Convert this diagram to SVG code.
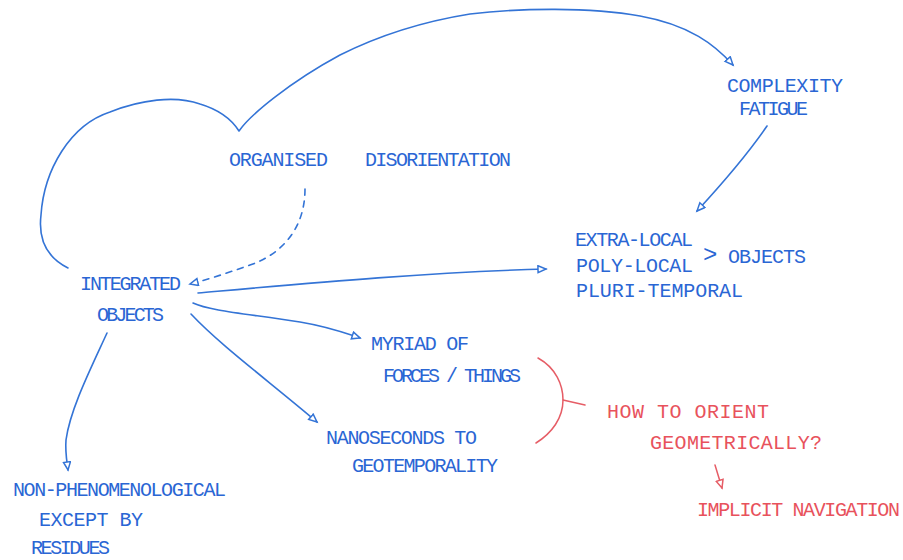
<svg xmlns="http://www.w3.org/2000/svg" width="903" height="560" viewBox="0 0 903 560">
  <style>
    .t { font-family: "Liberation Mono", "DejaVu Sans Mono", monospace; font-size: 20px; }
    .blue { fill: #2a66d4; }
    .red { fill: #e8525c; }
    .ln { fill: none; stroke: #3474d6; stroke-width: 1.6; stroke-linecap: round; stroke-linejoin: round; }
    .lnr { fill: none; stroke: #e65d66; stroke-width: 1.5; stroke-linecap: round; }
    .dash { stroke-dasharray: 6 6; }
  </style>
  <defs>
    <marker id="ah" markerUnits="userSpaceOnUse" markerWidth="12" markerHeight="12" refX="9" refY="4.5" orient="auto">
      <path d="M1,1 L9,4.5 L1,8 Z" fill="#ffffff" stroke="#3474d6" stroke-width="1.5"/>
    </marker>
    <marker id="ahr" markerUnits="userSpaceOnUse" markerWidth="12" markerHeight="12" refX="9" refY="4.5" orient="auto">
      <path d="M1,1 L9,4.5 L1,8 Z" fill="#ffffff" stroke="#e65d66" stroke-width="1.5"/>
    </marker>
  </defs>
  <rect width="903" height="560" fill="#ffffff"/>

  <g id="connectors">
    <!-- loop from Integrated Objects up through the cusp and over to Complexity Fatigue -->
    <path class="ln" marker-end="url(#ah)" d="M68,268 C48,258 38,240 41,215 C44,170 70,125 110,112 C140,100 175,95 200,104 C220,110 232,120 239,131 C250,115 290,82 340,55 C380,35 420,22 470,14 C520,8 590,7 640,16 C690,25 715,45 733,65"/>
    <path class="ln" marker-end="url(#ah)" d="M767,126 C745,158 720,186 697,211"/>
    <path class="ln dash" marker-end="url(#ah)" d="M305,189 C305,230 280,255 250,265 C230,272 210,279 190,284"/>
    <path class="ln" marker-end="url(#ah)" d="M198,293 C300,284 430,272 546,269"/>
    <path class="ln" marker-end="url(#ah)" d="M193,303 C210,311 250,314 300,322 C330,327 345,333 360,338"/>
    <path class="ln" marker-end="url(#ah)" d="M191,314 C220,345 270,382 317,422"/>
    <path class="ln" marker-end="url(#ah)" d="M107,333 C90,370 70,410 66,440 C65,452 67,462 68,470"/>
    <!-- red bracket grouping the two right-hand outcomes -->
    <path class="lnr" d="M538,358 C556,368 563,385 563,400 C563,418 552,433 536,443"/>
    <path class="lnr" d="M563,400 L585,405"/>
    <path class="lnr" marker-end="url(#ahr)" d="M715,465 L722,488"/>
  </g>

  <g id="organised-disorientation" class="t blue">
    <text x="229" y="166" textLength="99" lengthAdjust="spacing">ORGANISED</text>
    <text x="365" y="166" textLength="146" lengthAdjust="spacing">DISORIENTATION</text>
  </g>
  <g id="complexity-fatigue" class="t blue">
    <text x="727" y="92" textLength="116" lengthAdjust="spacing">COMPLEXITY</text>
    <text x="739" y="115" textLength="69" lengthAdjust="spacing">FATIGUE</text>
  </g>
  <g id="local-objects" class="t blue">
    <text x="575" y="246" textLength="118" lengthAdjust="spacing">EXTRA-LOCAL</text>
    <text x="576" y="272" textLength="117" lengthAdjust="spacing">POLY-LOCAL</text>
    <text x="576" y="297" textLength="167" lengthAdjust="spacing">PLURI-TEMPORAL</text>
    <text x="703" y="262" font-size="24">&gt;</text>
    <text x="728" y="263" textLength="78" lengthAdjust="spacing">OBJECTS</text>
  </g>
  <g id="integrated-objects" class="t blue">
    <text x="80" y="290" textLength="101" lengthAdjust="spacing">INTEGRATED</text>
    <text x="97" y="321" textLength="67" lengthAdjust="spacing">OBJECTS</text>
  </g>
  <g id="myriad" class="t blue">
    <text x="371" y="350" textLength="98" lengthAdjust="spacing">MYRIAD OF</text>
    <text x="383" y="382" textLength="138" lengthAdjust="spacing">FORCES / THINGS</text>
  </g>
  <g id="nanoseconds" class="t blue">
    <text x="326" y="444" textLength="151" lengthAdjust="spacing">NANOSECONDS TO</text>
    <text x="352" y="472" textLength="146" lengthAdjust="spacing">GEOTEMPORALITY</text>
  </g>
  <g id="non-phenomenological" class="t blue">
    <text x="13" y="496" textLength="213" lengthAdjust="spacing">NON-PHENOMENOLOGICAL</text>
    <text x="39" y="526" textLength="104" lengthAdjust="spacing">EXCEPT BY</text>
    <text x="31" y="554" textLength="79" lengthAdjust="spacing">RESIDUES</text>
  </g>
  <g id="orient" class="t red">
    <text x="607" y="418" textLength="162" lengthAdjust="spacing">HOW TO ORIENT</text>
    <text x="650" y="449" textLength="172" lengthAdjust="spacing">GEOMETRICALLY?</text>
  </g>
  <g id="implicit-navigation" class="t red">
    <text x="697" y="516" textLength="203" lengthAdjust="spacing">IMPLICIT NAVIGATION</text>
  </g>
</svg>
